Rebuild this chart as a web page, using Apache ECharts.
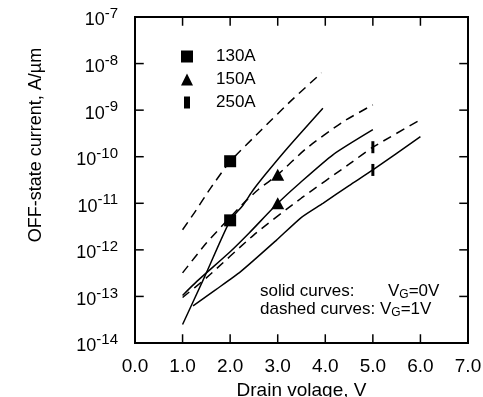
<!DOCTYPE html>
<html><head><meta charset="utf-8">
<script src="https://cdn.jsdelivr.net/npm/echarts@6/dist/echarts.min.js"></script>
<style>html,body{margin:0;padding:0;background:#fff}#c{width:483px;height:397px;background:#fff}</style>
</head><body><div id="c"></div>
<script>
// ---- tick labels ----
const xTickLabels = ['0.0','1.0','2.0','3.0','4.0','5.0','6.0','7.0'];
const yTickExponents = ['-14','-13','-12','-11','-10','-9','-8','-7'];

// ---- curves (VG=1V dashed, VG=0V solid) ----
const dashed130X = [1.0, 1.25, 1.6, 2.0, 2.65, 3.3, 3.92];
const dashed130Y = [2.7e-12, 6.3e-12, 2.2e-11, 7.9e-11, 3.7e-10, 1.66e-9, 6.3e-9];
const solid130X  = [1.0, 1.46, 2.0, 2.27, 2.48, 2.76, 3.22, 3.95];
const solid130Y  = [2.5e-14, 2.6e-13, 4.3e-12, 9.1e-12, 1.9e-11, 4.4e-11, 1.6e-10, 1.1e-9];

const dashed150X = [1.0, 1.5, 2.0, 2.3, 2.6, 3.0, 3.6, 4.37, 5.0];
const dashed150Y = [3.2e-13, 1.4e-12, 5.0e-12, 1.05e-11, 2.0e-11, 4.1e-11, 1.5e-10, 5.6e-10, 1.3e-9];
const solid150X  = [1.0, 1.3, 2.0, 2.4, 3.0, 3.46, 4.16, 5.0];
const solid150Y  = [1.05e-13, 2.1e-13, 9.1e-13, 2.3e-12, 1.0e-11, 2.7e-11, 1.1e-10, 3.8e-10];

const dashed250X = [1.0, 1.5, 2.5, 3.5, 4.5, 5.0, 6.0];
const dashed250Y = [9.5e-14, 2.5e-13, 2.1e-12, 1.3e-11, 6.9e-11, 1.6e-10, 6.2e-10];
const solid250X  = [1.22, 1.7, 2.22, 2.97, 3.5, 3.95, 4.5, 5.0, 6.0];
const solid250Y  = [6.3e-14, 1.4e-13, 3.4e-13, 1.6e-12, 5.0e-12, 1.0e-11, 2.4e-11, 5.2e-11, 2.7e-10];

// ---- measured points ----
const mark130X = [2.0, 2.0];  const mark130Y = [8.0e-11, 4.3e-12];
const mark150X = [3.0, 3.0];  const mark150Y = [4.1e-11, 1.0e-11];
const mark250X = [5.0, 5.0];  const mark250Y = [1.6e-10, 5.2e-11];

const FONT = '"Liberation Sans", Arial, Helvetica, sans-serif';
const X_MIN = 0, X_MAX = 7, Y_MIN = 1e-14, Y_MAX = 1e-7;
const pairs = (xs, ys) => xs.map((x, i) => [x, ys[i]]);
function curve(name, xs, ys, dashed) {
  return {
    name, type: 'line', data: pairs(xs, ys), showSymbol: false, symbol: 'none',
    smooth: 0.2, silent: true, z: 2,
    lineStyle: { color: '#000', width: 1.5, type: dashed ? [9, 6] : 'solid' }
  };
}
function marks(name, xs, ys, symbol, size) {
  return {
    name, type: 'scatter', data: pairs(xs, ys), symbol, symbolSize: size,
    symbolKeepAspect: true, z: 5, itemStyle: { color: '#000', opacity: 1 }
  };
}

// Frame box and inward ticks, placed through the axes' own scales
const frameSeries = {
  name: 'frame', type: 'custom', silent: true, clip: false, z: 10,
  data: [[X_MIN, Y_MIN]],
  renderItem(params, api) {
    const cs = params.coordSys;
    const L = cs.x, T = cs.y, R = cs.x + cs.width, B = cs.y + cs.height;
    const ch = [];
    const ln = (x1, y1, x2, y2, w) => ch.push({ type: 'line', shape: { x1, y1, x2, y2 },
      style: { stroke: '#000', lineWidth: w, lineCap: 'square' } });
    ln(L, T, R, T, 2); ln(R, T, R, B, 2); ln(R, B, L, B, 2); ln(L, B, L, T, 2);
    xTickLabels.map(Number).forEach(v => {
      const px = api.coord([v, Y_MIN])[0];
      ln(px, B, px, B - 8, 1.5); ln(px, T, px, T + 8, 1.5);
    });
    yTickExponents.map(Number).forEach(e => {
      const py = api.coord([X_MIN, Math.pow(10, e)])[1];
      ln(L, py, L + 8, py, 1.5); ln(R, py, R - 8, py, 1.5);
    });
    return { type: 'group', children: ch };
  }
};

const chart = echarts.init(document.getElementById('c'));
chart.setOption({
  animation: false,
  grid: { left: 135, right: 15, top: 17, bottom: 54, outerBoundsMode: 'none' },
  legend: {
    orient: 'vertical', left: 176, top: 43, itemWidth: 12, itemHeight: 12, itemGap: 6,
    selectedMode: false,
    data: ['130A', '150A', '250A'],
    textStyle: { fontSize: 17, fontFamily: FONT, color: '#000', padding: [0, 0, 0, 18], lineHeight: 17 }
  },
  xAxis: [
    { type: 'value', min: X_MIN, max: X_MAX, interval: 1, position: 'bottom',
      axisLine: { show: false }, axisTick: { show: false }, splitLine: { show: false },
      axisLabel: { formatter: (v) => xTickLabels[Math.round(v)], fontSize: 19, fontFamily: FONT, color: '#000', margin: 14 },
      name: 'Drain volage, V', nameLocation: 'middle', nameGap: 37,
      nameTextStyle: { fontSize: 19, fontFamily: FONT, color: '#000' } }
  ],
  yAxis: [
    { type: 'log', logBase: 10, min: Y_MIN, max: Y_MAX, position: 'left',
      axisLine: { show: false }, axisTick: { show: false }, splitLine: { show: false }, minorTick: { show: false },
      axisLabel: {
        formatter: v => '{b|10}{s|' + yTickExponents[Math.round(Math.log10(v)) + 14] + '}',
        margin: 17, color: '#000',
        rich: { b: { fontSize: 18, fontFamily: FONT, color: '#000', padding: [7, 0, 0, 0] },
                s: { fontSize: 15, fontFamily: FONT, color: '#000', padding: [0, 0, 6, 0] } }
      },
      name: 'OFF-state current, A/\u00b5m', nameLocation: 'middle', nameGap: 90, nameRotate: 90,
      nameTextStyle: { fontSize: 18, fontFamily: FONT, color: '#000', padding: [0, 0, 0, 70] } }
  ],
  graphic: [
    { type: 'text', x: 260, y: 291, style: { text: 'solid curves:', font: '17px ' + FONT, fill: '#000', verticalAlign: 'middle' } },
    { type: 'text', x: 388, y: 291, style: { text: '{v|V}{g|G}{v|=0V}', verticalAlign: 'middle',
        rich: { v: { fontSize: 17, fontFamily: FONT, fill: '#000' }, g: { fontSize: 12, fontFamily: FONT, fill: '#000', padding: [8, 0, 0, 0] } } } },
    { type: 'text', x: 260, y: 309, style: { text: 'dashed curves:', font: '17px ' + FONT, fill: '#000', verticalAlign: 'middle' } },
    { type: 'text', x: 380, y: 309, style: { text: '{v|V}{g|G}{v|=1V}', verticalAlign: 'middle',
        rich: { v: { fontSize: 17, fontFamily: FONT, fill: '#000' }, g: { fontSize: 12, fontFamily: FONT, fill: '#000', padding: [8, 0, 0, 0] } } } }
  ],
  series: [
    frameSeries,
    curve('d130', dashed130X, dashed130Y, true),
    curve('s130', solid130X, solid130Y, false),
    curve('d150', dashed150X, dashed150Y, true),
    curve('s150', solid150X, solid150Y, false),
    curve('d250', dashed250X, dashed250Y, true),
    curve('s250', solid250X, solid250Y, false),
    marks('130A', mark130X, mark130Y, 'rect', 12),
    marks('150A', mark150X, mark150Y, 'triangle', [13, 12]),
    marks('250A', mark250X, mark250Y, 'path://M0,0h6v12h-6z', [6, 12])
  ]
});
</script></body></html>
